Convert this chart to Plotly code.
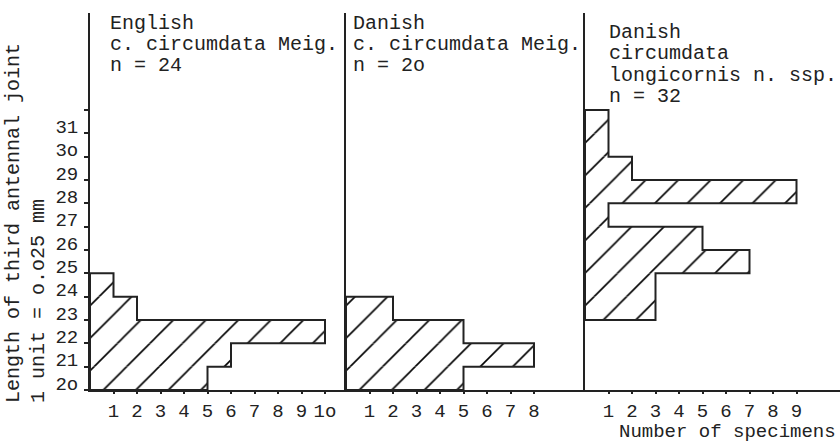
import plotly.graph_objects as go

# ---------------- data ----------------
length_vals = list(range(20, 32))
length_labels = ["2o", "21", "22", "23", "24", "25", "26", "27", "28", "29", "3o", "31"]

english_len = [20, 21, 22, 23, 24]
english_n = [5, 6, 10, 2, 1]

danish_len = [20, 21, 22, 23]
danish_n = [5, 8, 5, 2]

longi_len = [23, 24, 25, 26, 27, 28, 29, 30, 31]
longi_n = [3, 3, 7, 5, 1, 9, 2, 1, 1]

x1_ticks = [1, 2, 3, 4, 5, 6, 7, 8, 9, 10]
x1_text = ["1", "2", "3", "4", "5", "6", "7", "8", "9", "1o"]
x2_ticks = [1, 2, 3, 4, 5, 6, 7, 8]
x2_text = ["1", "2", "3", "4", "5", "6", "7", "8"]
x3_ticks = [1, 2, 3, 4, 5, 6, 7, 8, 9]
x3_text = ["1", "2", "3", "4", "5", "6", "7", "8", "9"]

titles = [
    ["English", "c. circumdata Meig.", "n = 24"],
    ["Danish", "c. circumdata Meig.", "n = 2o"],
    ["Danish", "circumdata", "longicornis n. ssp.", "n = 32"],
]
y_title_1 = "Length of third antennal joint"
y_title_2 = "1 unit = o.o25 mm"
x_title = "Number of specimens"

# ---------------- layout constants ----------------
W, H = 840, 444
ML, MR, MT, MB = 90, 0, 13, 54
PW, PH = W - ML - MR, H - MT - MB
panel_px = [90, 346, 585, 840]
px_per_x = 23.5
px_per_y = 23.33

FONT = "Liberation Mono"
INK = "#222222"


def px_to_paper_x(px):
    return (px - ML) / PW


def px_to_paper_y(py):
    return (H - MB - py) / PH


def outline(lens, ns):
    xs, ys = [0], [lens[0]]
    for l, n in zip(lens, ns):
        xs += [n, n]
        ys += [l, l + 1]
    xs += [0, 0]
    ys += [lens[-1] + 1, lens[0]]
    return xs, ys


fig = go.Figure()

panels = [
    (english_len, english_n, "x", "y"),
    (danish_len, danish_n, "x2", "y2"),
    (longi_len, longi_n, "x3", "y3"),
]

for lens, ns, xa, ya in panels:
    fig.add_trace(go.Bar(
        orientation="h",
        x=ns,
        y=[l + 0.5 for l in lens],
        width=1,
        base=0,
        marker=dict(
            color="white",
            line=dict(width=0),
            pattern=dict(shape="/", fgcolor="black", fgopacity=1, bgcolor="white",
                         size=23, solidity=0.07),
        ),
        xaxis=xa, yaxis=ya,
        hoverinfo="skip",
        showlegend=False,
    ))
    ox, oy = outline(lens, ns)
    fig.add_trace(go.Scatter(
        x=ox, y=oy, mode="lines",
        line=dict(color=INK, width=2),
        xaxis=xa, yaxis=ya,
        hoverinfo="skip", showlegend=False, cliponaxis=False,
    ))

yrange = [20, 20 + PH / px_per_y]

common_x = dict(
    showline=True, linecolor=INK, linewidth=2,
    ticks="outside", ticklen=2, tickcolor=INK, tickwidth=1.5,
    showgrid=False, zeroline=False, fixedrange=True,
    tickfont=dict(family=FONT, size=19, color=INK),
    tickmode="array",
)

xaxes = {}
for i, (tv, tt) in enumerate([(x1_ticks, x1_text), (x2_ticks, x2_text), (x3_ticks, x3_text)]):
    d0 = px_to_paper_x(panel_px[i])
    d1 = px_to_paper_x(panel_px[i + 1])
    rng = [0, (panel_px[i + 1] - panel_px[i]) / px_per_x]
    name = "xaxis" if i == 0 else f"xaxis{i+1}"
    anchor = "y" if i == 0 else f"y{i+1}"
    xaxes[name] = dict(common_x, domain=[d0, d1], range=rng, tickvals=tv, ticktext=tt, anchor=anchor)

fig.update_layout(**xaxes)

fig.update_layout(
    yaxis=dict(
        range=yrange, anchor="x",
        showline=True, linecolor=INK, linewidth=2,
        tickmode="array",
        tickvals=[v + 0.3 for v in length_vals],
        ticktext=length_labels,
        ticks="outside", ticklen=6, tickcolor="rgba(0,0,0,0)",
        minor=dict(tickmode="array", tickvals=list(range(20, 33)), ticks="outside",
                   ticklen=4, tickcolor=INK, tickwidth=1.5),
        tickfont=dict(family=FONT, size=19, color=INK),
        showgrid=False, zeroline=False, fixedrange=True,
    ),
    yaxis2=dict(matches="y", range=yrange, anchor="x2", showline=True, linecolor=INK, linewidth=2,
                showticklabels=False, ticks="", showgrid=False, zeroline=False, fixedrange=True),
    yaxis3=dict(matches="y", range=yrange, anchor="x3", showline=True, linecolor=INK, linewidth=2,
                showticklabels=False, ticks="", showgrid=False, zeroline=False, fixedrange=True),
)

annotations = []
title_pos = [
    (108, [23, 44, 65]),
    (351, [23, 44, 65]),
    (607, [33, 54, 75, 96]),
]
for lines, (xpx, ypxs) in zip(titles, title_pos):
    for line, ypx in zip(lines, ypxs):
        annotations.append(dict(
            text=line, xref="paper", yref="paper",
            x=px_to_paper_x(xpx), y=px_to_paper_y(ypx),
            xanchor="left", yanchor="middle", showarrow=False,
            font=dict(family=FONT, size=20, color=INK),
        ))

for txt, xpx in [(y_title_1, 13), (y_title_2, 38)]:
    annotations.append(dict(
        text=txt, xref="paper", yref="paper",
        x=px_to_paper_x(xpx), y=px_to_paper_y(405),
        xanchor="center", yanchor="bottom", textangle=-90, showarrow=False,
        font=dict(family=FONT, size=20, color=INK),
    ))

annotations.append(dict(
    text=x_title, xref="paper", yref="paper",
    x=px_to_paper_x(838), y=px_to_paper_y(432),
    xanchor="right", yanchor="middle", showarrow=False,
    font=dict(family=FONT, size=19, color=INK),
))

fig.update_layout(
    width=W, height=H,
    margin=dict(l=ML, r=MR, t=MT, b=MB),
    paper_bgcolor="white", plot_bgcolor="white",
    annotations=annotations,
    showlegend=False,
    barmode="overlay",
)

fig.write_html("out.html", config={"displayModeBar": False},
               post_script="document.body.style.margin='0';document.body.style.padding='0';")
